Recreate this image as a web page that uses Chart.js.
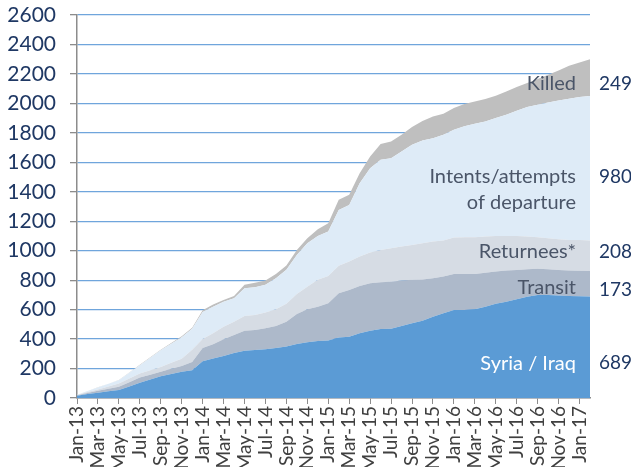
<!DOCTYPE html>
<html>
<head>
<meta charset="utf-8">
<script src="https://cdn.jsdelivr.net/npm/chart.js@4.4.1/dist/chart.umd.min.js"></script>
<style>
  body { margin: 0; background: #fff; }
  #wrap { width: 631px; height: 467px; }
</style>
</head>
<body>
<div id="wrap"><canvas id="fightersChart"></canvas></div>
<script>
// months, Jan-13 .. Feb-17
const months = [
  'Jan-13','Feb-13','Mar-13','Apr-13','May-13','Jun-13','Jul-13','Aug-13','Sep-13','Oct-13','Nov-13','Dec-13',
  'Jan-14','Feb-14','Mar-14','Apr-14','May-14','Jun-14','Jul-14','Aug-14','Sep-14','Oct-14','Nov-14','Dec-14',
  'Jan-15','Feb-15','Mar-15','Apr-15','May-15','Jun-15','Jul-15','Aug-15','Sep-15','Oct-15','Nov-15','Dec-15',
  'Jan-16','Feb-16','Mar-16','Apr-16','May-16','Jun-16','Jul-16','Aug-16','Sep-16','Oct-16','Nov-16','Dec-16',
  'Jan-17','Feb-17'
];

const syriaIraq = [15,27,36,45,54,78,103,125,148,163,178,189,
  249,268,285,305,321,326,331,340,349,367,378,387,
  390,410,416,439,457,469,470,489,507,525,552,575,
  598,598,602,620,639,654,670,688,700,700,695,693,
  690,689];
const transit = [3,7,13,17,22,29,36,33,30,35,40,56,
  91,97,114,123,136,136,142,149,169,204,224,233,
  253,301,318,322,322,317,320,308,295,279,261,249,
  244,244,240,231,219,211,199,186,178,174,174,172,
  173,173];
const returnees = [2,6,9,16,23,25,27,30,33,41,49,83,
  60,75,85,90,100,102,107,113,121,135,154,182,
  186,186,192,199,208,219,227,231,237,246,249,245,
  247,249,249,245,242,235,231,222,213,211,209,208,
  209,208];
const intents = [2,8,14,18,22,39,56,85,113,129,146,142,
  184,180,170,159,188,188,188,211,231,265,295,298,
  301,380,385,498,573,612,611,645,680,698,702,718,
  732,754,770,781,800,822,850,879,899,921,942,958,
  971,980];
const killed = [0,0,1,1,2,2,3,3,4,5,6,7,
  11,14,12,16,23,31,29,29,29,34,34,46,
  57,68,68,68,79,108,113,114,120,132,147,142,
  147,150,152,152,151,159,161,163,175,188,203,224,
  235,249];

const yTicks = [0,200,400,600,800,1000,1200,1400,1600,1800,2000,2200,2400,2600];

const FONT = 'Lato, "Open Sans", sans-serif';

// labels inside the areas + latest values on the right
const areaLabels = [
  { lines: ['Killed'], at: [2133], color: '#4a5568', value: '249', valueAt: 2133 },
  { lines: ['Intents/attempts', 'of departure'], at: [1503, 1327], color: '#4a5568', value: '980', valueAt: 1503 },
  { lines: ['Returnees*'], at: [994], color: '#4a5568', value: '208', valueAt: 994 },
  { lines: ['Transit'], at: [752], color: '#4a5568', value: '173', valueAt: 735 },
  { lines: ['Syria / Iraq'], at: [236], color: '#ffffff', value: '689', valueAt: 240 }
];

const labelPlugin = {
  id: 'areaLabels',
  afterDatasetsDraw(chart) {
    const { ctx, chartArea, scales } = chart;
    ctx.save();
    ctx.textBaseline = 'middle';
    areaLabels.forEach(l => {
      ctx.font = '20px ' + FONT;
      ctx.textAlign = 'right';
      ctx.fillStyle = l.color;
      l.lines.forEach((t, i) => ctx.fillText(t, chartArea.right - 14, scales.y.getPixelForValue(l.at[i])));
      ctx.font = '19px ' + FONT;
      ctx.textAlign = 'left';
      ctx.fillStyle = '#1f3864';
      ctx.fillText(l.value, chartArea.right + 9, scales.y.getPixelForValue(l.valueAt));
    });
    ctx.restore();
  }
};

function layer(label, data, color, fill) {
  return {
    label: label,
    data: data,
    backgroundColor: color,
    borderColor: color,
    borderWidth: 0,
    pointRadius: 0,
    tension: 0,
    fill: fill
  };
}

new Chart(document.getElementById('fightersChart'), {
  type: 'line',
  data: {
    labels: months,
    datasets: [
      layer('Syria / Iraq', syriaIraq, '#5b9bd5', 'origin'),
      layer('Transit', transit, '#adb9ca', '-1'),
      layer('Returnees*', returnees, '#d6dce4', '-1'),
      layer('Intents/attempts of departure', intents, '#deebf7', '-1'),
      layer('Killed', killed, '#bfbfbf', '-1')
    ]
  },
  options: {
    responsive: true,
    maintainAspectRatio: false,
    animation: false,
    layout: { padding: { top: 15, right: 41, left: 0, bottom: 0 } },
    plugins: {
      legend: { display: false },
      tooltip: { enabled: false }
    },
    scales: {
      x: {
        offset: false,
        afterFit: s => { s.height = 69; s.paddingLeft = 0; s.paddingRight = 0; },
        border: { color: '#8c8c8c', width: 1.5 },
        grid: {
          drawOnChartArea: false,
          tickLength: 6,
          tickColor: c => (c.index % 2 ? 'rgba(0,0,0,0)' : '#8c8c8c')
        },
        ticks: {
          autoSkip: false,
          maxRotation: 90,
          minRotation: 90,
          padding: 2,
          color: '#404040',
          font: { family: FONT, size: 19 },
          callback: (v, i) => (i % 2 ? '' : months[i])
        }
      },
      y: {
        stacked: true,
        min: 0,
        max: 2600,
        afterFit: s => { s.width = 77; s.paddingTop = 0; s.paddingBottom = 0; },
        afterBuildTicks: s => { s.ticks = yTicks.map(v => ({ value: v })); },
        border: { color: '#8c8c8c', width: 1.5 },
        grid: { color: '#6fa5dc', lineWidth: 1.3, tickColor: '#8c8c8c', tickLength: 7 },
        ticks: {
          padding: 14,
          color: '#1f3864',
          font: { family: FONT, size: 21 },
          callback: v => String(v)
        }
      }
    }
  },
  plugins: [labelPlugin]
});
</script>
</body>
</html>
